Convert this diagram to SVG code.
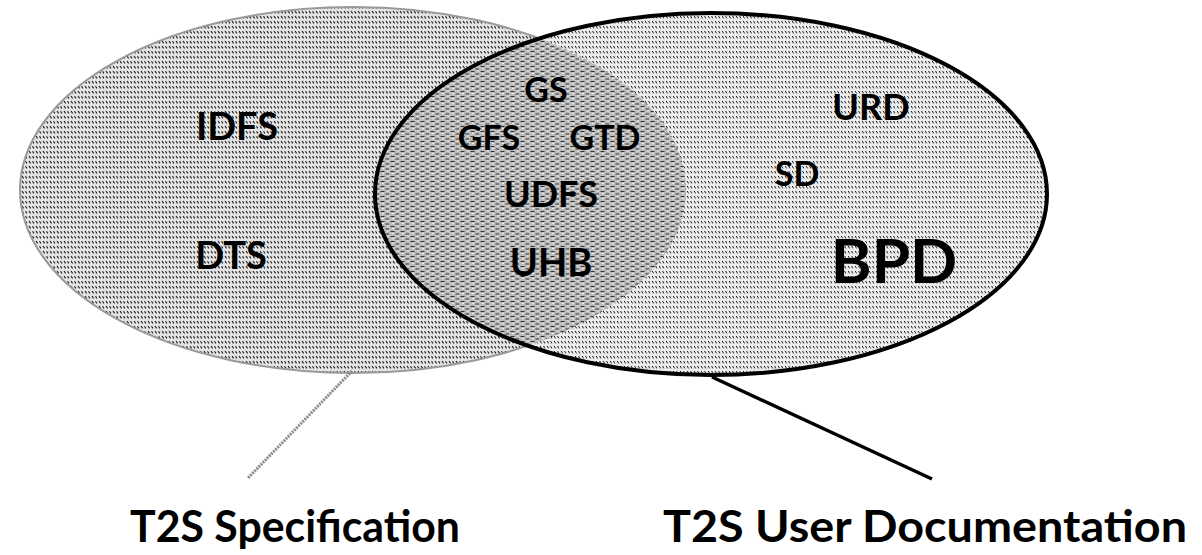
<svg xmlns="http://www.w3.org/2000/svg" width="1202" height="555" viewBox="0 0 1202 555">
  <defs>
    <pattern id="hatchL" width="7" height="5" patternUnits="userSpaceOnUse">
      <rect width="7" height="5" fill="#e4e4e4"/>
      <path d="M1 1 l1.6 2.4 M4.5 1.2 l1.4 2.2" stroke="#1a1a1a" stroke-width="1.1" fill="none"/>
    </pattern>
    <pattern id="hatchR" width="7" height="5" patternUnits="userSpaceOnUse">
      <rect width="7" height="5" fill="#ececec"/>
      <path d="M1.2 1 l1.4 2.4 M4.6 1 l1.2 2.4" stroke="#1a1a1a" stroke-width="1" fill="none"/>
    </pattern>
    <pattern id="hatchO" width="10" height="5" patternUnits="userSpaceOnUse">
      <rect width="10" height="5" fill="#bcbcbc"/>
      <path d="M0.5 1.5 h4 M5.5 4 h3.5" stroke="#333" stroke-width="1" fill="none"/>
      <rect x="2" y="3" width="2" height="1" fill="#f0f0f0"/>
      <rect x="7" y="0.5" width="2" height="1" fill="#f0f0f0"/>
    </pattern>
    <clipPath id="clipL">
      <ellipse cx="353" cy="190" rx="333" ry="183"/>
    </clipPath>
  </defs>
  <style>
    .lbl { font-family: "Lato", "Open Sans", "DejaVu Sans", sans-serif; font-weight: bold; fill: #000; text-anchor: middle; }
    .cap { font-family: "Lato", "Open Sans", "DejaVu Sans", sans-serif; font-weight: bold; fill: #000; }
  </style>
  <rect width="1202" height="555" fill="#fff"/>

  <g id="spec">
    <ellipse cx="353" cy="190" rx="333" ry="183" fill="url(#hatchL)" stroke="#9a9a9a" stroke-width="2"/>
  </g>
  <g id="userdoc">
    <ellipse cx="711" cy="194" rx="336" ry="181" fill="url(#hatchR)"/>
    <ellipse cx="711" cy="194" rx="336" ry="181" fill="url(#hatchO)" clip-path="url(#clipL)"/>
    <ellipse cx="711" cy="194" rx="336" ry="181" fill="none" stroke="#000" stroke-width="4"/>
  </g>

  <g id="connectors">
    <line x1="352" y1="371" x2="248" y2="478" stroke="#8a8a8a" stroke-width="3" stroke-dasharray="2 1"/>
    <line x1="712" y1="377" x2="932" y2="479" stroke="#000" stroke-width="3.5"/>
  </g>

  <g id="labels">
    <g id="n-idfs"><text class="lbl" x="237" y="140" font-size="38">IDFS</text></g>
    <g id="n-dts"><text class="lbl" x="231" y="269" font-size="38">DTS</text></g>
    <g id="n-gs"><text class="lbl" x="546" y="102" font-size="34">GS</text></g>
    <g id="n-gfs"><text class="lbl" x="489" y="150" font-size="34">GFS</text></g>
    <g id="n-gtd"><text class="lbl" x="605" y="150" font-size="34">GTD</text></g>
    <g id="n-udfs"><text class="lbl" x="551" y="207" font-size="36">UDFS</text></g>
    <g id="n-uhb"><text class="lbl" x="551" y="276" font-size="38">UHB</text></g>
    <g id="n-urd"><text class="lbl" x="871" y="120" font-size="36">URD</text></g>
    <g id="n-sd"><text class="lbl" x="797" y="186" font-size="34">SD</text></g>
    <g id="n-bpd"><text class="lbl" x="894" y="283" font-size="62">BPD</text></g>
  </g>

  <g id="captions">
    <text class="cap" x="130" y="542" font-size="44" textLength="330" lengthAdjust="spacingAndGlyphs">T2S Specification</text>
    <text class="cap" x="663" y="542" font-size="44" textLength="524" lengthAdjust="spacingAndGlyphs">T2S User Documentation</text>
  </g>
</svg>
